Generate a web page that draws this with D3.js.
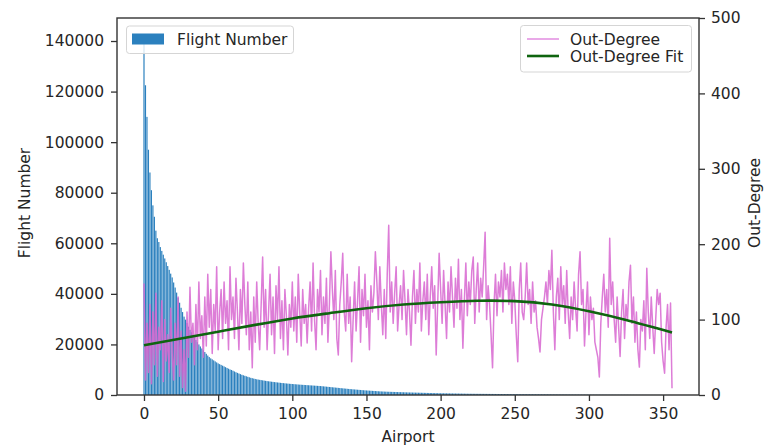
<!DOCTYPE html>
<html>
<head>
<meta charset="utf-8">
<script src="https://cdn.jsdelivr.net/npm/d3@7"></script>
<style>
  body { margin: 0; background: #fff; }
  text { font-family: "DejaVu Sans", sans-serif; fill: #262626; }
</style>
</head>
<body>
<svg id="chart" width="766" height="446"></svg>
<script>
// Flights per airport, sorted from busiest to quietest
const flightNumber = [
  141500,122500,110000,97000,88000,81000,75000,70500,65000,62000,60500,58500,57000,55500,54000,52500,51000,49500,48000,46500,
  44500,42500,40500,38500,36500,34500,32800,31000,29800,28500,27000,25800,24800,23800,22800,21800,20900,20000,19200,18400,
  17700,17000,16300,15600,15000,14500,14100,13700,13300,12900,12500,12200,11900,11600,11300,11000,10700,10400,10100,9900,
  9600,9300,9000,8750,8500,8250,8000,7800,7600,7400,7200,7000,6800,6650,6500,6350,6200,6100,6000,5900,
  5800,5700,5600,5500,5420,5340,5260,5180,5100,5030,4960,4890,4820,4750,4690,4630,4570,4510,4450,4400,
  4350,4300,4250,4200,4150,4100,4060,4020,3980,3940,3900,3860,3820,3780,3740,3700,3660,3620,3580,3540,
  3480,3420,3360,3300,3240,3180,3120,3060,3000,2940,2880,2820,2760,2700,2640,2580,2520,2460,2400,2340,
  2290,2240,2190,2140,2090,2040,1990,1940,1890,1840,1800,1760,1720,1680,1640,1600,1560,1520,1480,1440,
  1410,1380,1350,1320,1300,1280,1260,1240,1220,1200,1180,1160,1140,1120,1100,1080,1060,1040,1020,1000,
  985,970,955,940,925,910,895,880,865,850,835,820,805,790,775,760,745,730,715,700,
  690,680,670,660,650,640,630,620,610,600,590,580,570,560,550,540,530,520,510,500,
  495,490,485,480,475,470,465,460,455,450,445,440,435,430,425,420,415,410,405,400,
  395,390,385,380,375,370,365,360,355,350,345,340,335,330,325,320,315,310,305,300,
  295,290,285,280,275,270,265,260,255,250,245,240,235,230,225,220,215,210,205,200,
  196,192,188,184,180,176,172,168,164,160,156,152,148,144,140,137,134,131,128,125,
  122,119,116,113,110,107,104,101,98,95,92,90,88,86,84,82,80,78,76,74,
  72,70,68,66,64,62,60,58,56,54,52,50,48,46,44,42,40,38,36,34,
  32,30,28,26,24,22,20,18,16,14,12,10,8,6,4,2,1
];

// Out-degree of the same airports
const outDegree = [
  148,20,95,30,120,15,110,40,135,25,90,60,125,18,100,45,80,30,115,55,
  20,95,40,130,25,85,10,60,5,110,50,143,70,95,40,120,60,150,75,105,
  50,130,65,160,90,140,55,120,85,170,60,110,140,75,150,95,125,60,170,100,
  130,75,155,110,60,140,95,175,120,80,150,60,110,36,130,70,150,95,60,120,
  183,90,140,60,110,160,80,130,55,145,100,170,75,125,60,140,105,53,120,90,
  150,85,130,70,160,110,65,140,95,120,69,115,150,85,175,100,60,140,110,165,
  80,130,95,155,70,120,190,140,100,165,75,53,120,150,188,110,85,160,95,130,
  44,100,150,85,125,170,70,140,105,160,90,125,60,145,110,135,190,150,100,170,
  120,80,140,75,160,225,110,150,95,135,170,85,120,145,100,165,125,80,140,110,
  66,130,165,95,140,110,175,85,125,150,100,160,80,130,170,115,145,53,120,188,
  140,95,165,120,75,150,110,170,130,90,155,115,180,100,140,62,125,175,105,150,
  120,165,183,95,140,175,110,155,130,170,216,100,145,120,80,36,120,160,105,150,
  130,165,110,175,140,160,120,170,95,150,125,80,44,140,175,110,100,130,175,120,
  140,95,150,110,125,90,75,57,100,115,130,150,120,165,140,192,110,60,130,155,
  100,170,120,145,95,165,110,75,130,100,150,115,85,160,190,120,140,65,110,150,
  80,130,100,115,70,60,50,24,95,130,160,110,140,90,208,120,150,100,70,130,
  90,51,110,140,75,120,100,150,172,95,130,70,110,60,37,100,85,125,60,168,
  110,75,130,90,55,100,140,120,135,70,45,29,90,120,60,122,9
];

// Fitted out-degree curve, read at a few airport positions
const fitIndex = [0, 25, 50, 75, 100, 125, 150, 175, 200, 225, 250, 275, 300, 325, 356];
const fitValue = [66, 75, 84, 93, 101.5, 108.5, 115, 120, 123, 125, 124.5, 120, 111, 99.5, 83];

const flightTicks = [0, 20000, 40000, 60000, 80000, 100000, 120000, 140000];
const degreeTicks = [0, 100, 200, 300, 400, 500];
const airportTicks = [0, 50, 100, 150, 200, 250, 300, 350];

const plotLeft = 117, plotRight = 699, plotTop = 18, plotBottom = 395;
const fontSize = '15.5px';

const svg = d3.select('#chart');

const x = d3.scaleLinear().domain([-18.2, 374.2]).range([plotLeft, plotRight]);
const yFlights = d3.scaleLinear().domain([0, 149100]).range([plotBottom, plotTop]);
const yDegree = d3.scaleLinear().domain([0, 500]).range([plotBottom, plotTop]);

// Bars
svg.append('g')
  .selectAll('rect')
  .data(flightNumber)
  .enter()
  .append('rect')
  .attr('x', (d, i) => x(i - 0.4))
  .attr('width', x(0.4) - x(-0.4))
  .attr('y', d => yFlights(d))
  .attr('height', d => plotBottom - yFlights(d))
  .attr('fill', '#2b80be');

// Out-degree line
const degreeLine = d3.line()
  .x((d, i) => x(i))
  .y(d => yDegree(d));

svg.append('path')
  .datum(outDegree)
  .attr('d', degreeLine)
  .attr('fill', 'none')
  .attr('stroke', '#d766d0')
  .attr('stroke-opacity', 0.85)
  .attr('stroke-width', 1.5)
  .attr('stroke-linejoin', 'round');

// Fit line
const fitLine = d3.line()
  .x((d, i) => x(fitIndex[i]))
  .y(d => yDegree(d))
  .curve(d3.curveNatural);

svg.append('path')
  .datum(fitValue)
  .attr('d', fitLine)
  .attr('fill', 'none')
  .attr('stroke', '#0f640f')
  .attr('stroke-width', 2.6);

// Frame
svg.append('rect')
  .attr('x', plotLeft).attr('y', plotTop)
  .attr('width', plotRight - plotLeft).attr('height', plotBottom - plotTop)
  .attr('fill', 'none')
  .attr('stroke', '#333')
  .attr('stroke-width', 1.4);

// Axes
function styleAxis(g) {
  g.select('.domain').remove();
  g.selectAll('.tick line').attr('stroke', '#333').attr('stroke-width', 1.3);
  g.selectAll('.tick text').style('font-size', fontSize).attr('fill', '#262626');
}

svg.append('g')
  .attr('transform', `translate(${plotLeft},0)`)
  .call(d3.axisLeft(yFlights).tickValues(flightTicks).tickFormat(d3.format('d')).tickSize(6).tickPadding(7))
  .call(styleAxis);

svg.append('g')
  .attr('transform', `translate(${plotRight},0)`)
  .call(d3.axisRight(yDegree).tickValues(degreeTicks).tickFormat(d3.format('d')).tickSize(6).tickPadding(6))
  .call(styleAxis);

svg.append('g')
  .attr('transform', `translate(0,${plotBottom})`)
  .call(d3.axisBottom(x).tickValues(airportTicks).tickFormat(d3.format('d')).tickSize(6).tickPadding(7))
  .call(styleAxis);

// Axis labels
svg.append('text')
  .attr('x', (plotLeft + plotRight) / 2).attr('y', 442)
  .attr('text-anchor', 'middle')
  .style('font-size', fontSize)
  .text('Airport');

svg.append('text')
  .attr('transform', 'translate(30,203) rotate(-90)')
  .attr('text-anchor', 'middle')
  .style('font-size', fontSize)
  .text('Flight Number');

svg.append('text')
  .attr('transform', 'translate(760,203) rotate(-90)')
  .attr('text-anchor', 'middle')
  .style('font-size', fontSize)
  .text('Out-Degree');

// Left legend
const legendLeft = svg.append('g');
legendLeft.append('rect')
  .attr('x', 126.5).attr('y', 26).attr('width', 167).attr('height', 27.5)
  .attr('rx', 3)
  .attr('fill', '#fff').attr('fill-opacity', 0.8)
  .attr('stroke', '#d5d5d5');
legendLeft.append('rect')
  .attr('x', 132).attr('y', 33.5).attr('width', 32).attr('height', 11)
  .attr('fill', '#2b80be');
legendLeft.append('text')
  .attr('x', 177).attr('y', 45)
  .style('font-size', fontSize)
  .text('Flight Number');

// Right legend
const legendItems = [
  { label: 'Out-Degree', color: '#e28de0', width: 1.5 },
  { label: 'Out-Degree Fit', color: '#0f640f', width: 2.6 }
];
const legendRight = svg.append('g');
legendRight.append('rect')
  .attr('x', 520.5).attr('y', 25.5).attr('width', 171).attr('height', 46.5)
  .attr('rx', 3)
  .attr('fill', '#fff').attr('fill-opacity', 0.8)
  .attr('stroke', '#d5d5d5');
legendItems.forEach((item, i) => {
  const cy = 39 + i * 17;
  legendRight.append('line')
    .attr('x1', 527).attr('x2', 559)
    .attr('y1', cy).attr('y2', cy)
    .attr('stroke', item.color)
    .attr('stroke-width', item.width);
  legendRight.append('text')
    .attr('x', 570).attr('y', cy + 5.5)
    .style('font-size', fontSize)
    .text(item.label);
});
</script>
</body>
</html>
